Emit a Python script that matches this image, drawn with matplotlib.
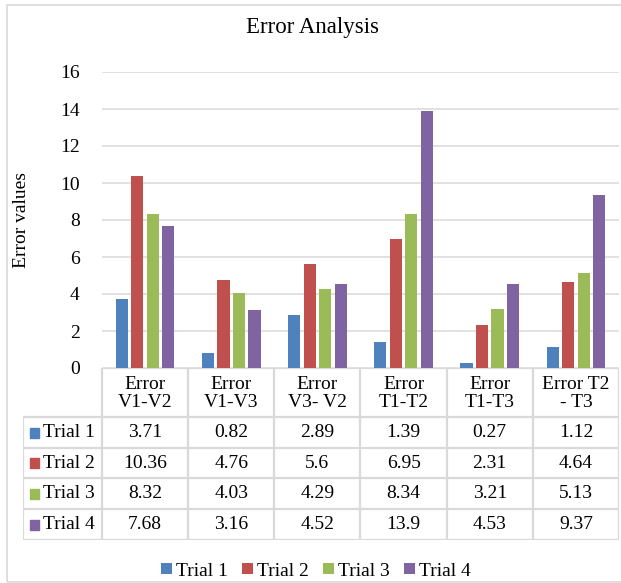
import matplotlib.pyplot as plt
from matplotlib.patches import Rectangle

categories = ["Error\nV1-V2", "Error\nV1-V3", "Error\nV3- V2", "Error\nT1-T2", "Error\nT1-T3", "Error T2\n- T3"]
series_names = ["Trial 1", "Trial 2", "Trial 3", "Trial 4"]
trial1 = [3.71, 0.82, 2.89, 1.39, 0.27, 1.12]
trial2 = [10.36, 4.76, 5.6, 6.95, 2.31, 4.64]
trial3 = [8.32, 4.03, 4.29, 8.34, 3.21, 5.13]
trial4 = [7.68, 3.16, 4.52, 13.9, 4.53, 9.37]
table_text = [
    ["3.71", "0.82", "2.89", "1.39", "0.27", "1.12"],
    ["10.36", "4.76", "5.6", "6.95", "2.31", "4.64"],
    ["8.32", "4.03", "4.29", "8.34", "3.21", "5.13"],
    ["7.68", "3.16", "4.52", "13.9", "4.53", "9.37"],
]
yticks = [0, 2, 4, 6, 8, 10, 12, 14, 16]
colors = ["#4F81BD", "#C0504D", "#9BBB59", "#8064A2"]
grid_color = "#D9D9D9"

plt.rcParams["font.family"] = ["Liberation Serif", "DejaVu Serif"]

W, H = 621, 583
FS = 14
fig = plt.figure(figsize=(W / 100, H / 100), dpi=100)


def fig_rect(x0, y0, x1, y1):
    # pixel box (top-left origin) -> figure fraction [left, bottom, width, height]
    return [x0 / W, 1 - y1 / H, (x1 - x0) / W, (y1 - y0) / H]


# chart area frame
fig.patches.append(Rectangle((7 / W, 1 - 582 / H), (640 - 7) / W, (582 - 5) / H,
                             transform=fig.transFigure, fill=False,
                             edgecolor=grid_color, linewidth=1.2))

# bar plot
ax = fig.add_axes(fig_rect(102, 72, 619, 368))
n = len(categories)
values = [trial1, trial2, trial3, trial4]
bw = 0.14
step = 0.18
for i, (vals, col, name) in enumerate(zip(values, colors, series_names)):
    xs = [k + (i - 1.5) * step for k in range(n)]
    ax.bar(xs, vals, width=bw, color=col, label=name, zorder=3)
ax.set_xlim(-0.5, n - 0.5)
ax.set_ylim(0, 16)
ax.set_yticks(yticks)
ax.set_xticks([])
ax.tick_params(axis="y", length=0, pad=16, labelsize=FS)
ax.grid(axis="y", color=grid_color, linewidth=1.1, zorder=0)
for s in ax.spines.values():
    s.set_visible(False)
ax.set_facecolor("none")
ax.set_ylabel("Error values", fontsize=FS)
ax.yaxis.set_label_coords(-72 / 517, 0.5)
fig.text(312 / W, 1 - 27 / H, "Error Analysis", fontsize=16.5, ha="center", va="center")

# data table below the axis
col_w = 517 / n
label_left = -0.5 - (102 - 23) / col_w
tax = fig.add_axes(fig_rect(23, 368, 619, 540))
tax.set_xlim(label_left, n - 0.5)
tax.set_ylim(172, 0)
tax.axis("off")
row_edges = [0, 49, 80, 110, 141, 172]
lw = 1.6
# horizontal lines
tax.plot([-0.5, n - 0.5], [row_edges[0]] * 2, color=grid_color, lw=lw, solid_capstyle="butt")
for y in row_edges[1:]:
    tax.plot([label_left, n - 0.5], [y, y], color=grid_color, lw=lw, solid_capstyle="butt")
# vertical lines
tax.plot([label_left, label_left], [row_edges[1], row_edges[-1]], color=grid_color, lw=lw)
for k in range(n + 1):
    tax.plot([k - 0.5, k - 0.5], [row_edges[0], row_edges[-1]], color=grid_color, lw=lw)
# header
for k, cat in enumerate(categories):
    tax.text(k, (row_edges[0] + row_edges[1]) / 2 + 1, cat, ha="center", va="center",
             fontsize=FS, linespacing=1.05)
# rows
for r in range(len(series_names)):
    yc = (row_edges[r + 1] + row_edges[r + 2]) / 2
    for k in range(n):
        tax.text(k, yc, table_text[r][k], ha="center", va="center", fontsize=FS)
    key_x = label_left + 7 / col_w
    tax.add_patch(Rectangle((key_x, yc - 5), 9 / col_w, 10, color=colors[r]))
    tax.text(key_x + 13 / col_w, yc, series_names[r], ha="left", va="center", fontsize=FS)

# legend
handles, labels = ax.get_legend_handles_labels()
fig.legend(handles, labels, loc="center", bbox_to_anchor=(316 / W, 1 - 571 / H), ncol=4,
           frameon=False, fontsize=FS, handlelength=0.55, handleheight=0.55,
           handletextpad=0.2, columnspacing=0.75)

fig.savefig("out.png", dpi=100)
